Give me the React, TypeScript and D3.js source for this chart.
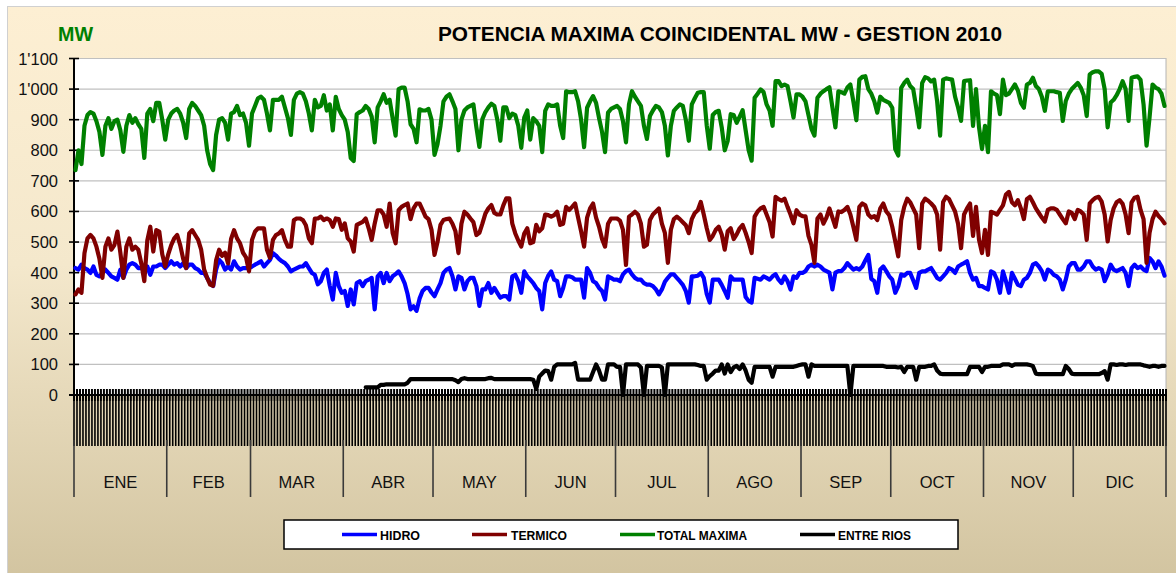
import React from "react";
import * as d3 from "d3";

const WIDTH = 1176;
const HEIGHT = 573;

const PLOT = { left: 74, right: 1166, top: 58.5, bottom: 395 };

const MONTHS = ["ENE", "FEB", "MAR", "ABR", "MAY", "JUN", "JUL", "AGO", "SEP", "OCT", "NOV", "DIC"];
const MONTH_DAYS = [31, 28, 31, 30, 31, 30, 31, 31, 30, 31, 30, 31];
const Y_TICKS = [0, 100, 200, 300, 400, 500, 600, 700, 800, 900, 1000, 1100];

// daily maxima, one row per month
const hidroByMonth = [
  [415, 410, 426, 415, 410, 399, 420, 393, 388, 399, 410, 399, 388, 383, 377, 410, 383, 410, 426, 431, 426, 415, 415, 410, 420, 393, 420, 420, 426, 426, 415],
  [426, 437, 426, 431, 420, 431, 415, 426, 426, 415, 410, 399, 399, 383, 366, 356, 410, 442, 431, 410, 420, 410, 437, 420, 410, 415, 415, 415],
  [420, 426, 431, 437, 420, 431, 442, 464, 456, 445, 437, 431, 420, 404, 410, 415, 420, 420, 431, 415, 399, 393, 362, 372, 399, 410, 356, 312, 399, 356, 334],
  [340, 291, 345, 296, 366, 372, 356, 372, 377, 383, 280, 388, 399, 366, 399, 372, 388, 395, 404, 388, 366, 330, 280, 290, 275, 315, 340, 350, 350, 335],
  [323, 345, 366, 399, 410, 415, 388, 345, 388, 383, 345, 372, 383, 383, 356, 291, 345, 345, 366, 334, 350, 334, 318, 323, 323, 312, 388, 393, 372, 334, 404],
  [388, 377, 366, 350, 340, 280, 366, 390, 404, 377, 372, 323, 350, 388, 388, 385, 377, 377, 377, 318, 415, 399, 372, 366, 350, 340, 312, 388, 383, 377],
  [377, 372, 394, 405, 410, 394, 383, 377, 377, 366, 361, 361, 356, 345, 329, 345, 370, 383, 394, 394, 383, 372, 360, 340, 302, 388, 388, 390, 399, 383, 330],
  [302, 377, 377, 377, 360, 340, 318, 388, 377, 377, 377, 377, 320, 307, 302, 383, 380, 377, 388, 383, 377, 388, 395, 377, 366, 388, 372, 345, 388, 383, 399],
  [399, 405, 420, 426, 420, 426, 420, 410, 405, 400, 345, 400, 405, 405, 415, 431, 420, 410, 415, 410, 420, 440, 458, 380, 372, 334, 410, 420, 405, 388],
  [377, 334, 355, 394, 390, 399, 399, 375, 350, 399, 404, 404, 410, 415, 399, 383, 377, 388, 399, 415, 410, 399, 420, 426, 431, 437, 399, 377, 383, 356, 356],
  [350, 345, 404, 399, 377, 334, 404, 372, 334, 399, 380, 360, 356, 377, 383, 399, 426, 431, 420, 405, 377, 410, 404, 393, 388, 377, 345, 377, 420, 431],
  [431, 410, 410, 420, 437, 437, 420, 410, 415, 410, 372, 394, 426, 410, 405, 410, 415, 399, 356, 415, 426, 415, 420, 410, 405, 448, 437, 415, 437, 420, 390],
];

const termicoByMonth = [
  [329, 345, 334, 464, 512, 523, 512, 485, 445, 383, 485, 512, 475, 490, 534, 465, 383, 485, 512, 475, 485, 475, 430, 372, 505, 550, 469, 539, 534, 460, 420],
  [460, 490, 512, 523, 490, 445, 415, 528, 539, 523, 507, 475, 410, 383, 361, 357, 440, 475, 455, 465, 430, 510, 539, 512, 496, 465, 450, 404],
  [507, 534, 545, 545, 545, 475, 448, 507, 523, 528, 539, 507, 485, 485, 572, 577, 577, 572, 555, 512, 496, 577, 577, 583, 572, 577, 572, 550, 577, 575, 540],
  [561, 512, 502, 469, 556, 561, 566, 577, 545, 507, 560, 604, 604, 590, 550, 626, 530, 496, 604, 615, 621, 626, 575, 610, 626, 626, 605, 583, 575, 540],
  [458, 500, 556, 572, 575, 577, 560, 535, 464, 560, 599, 590, 577, 565, 523, 530, 560, 593, 610, 621, 595, 590, 590, 620, 643, 643, 560, 528, 505, 485, 528],
  [545, 496, 500, 556, 535, 545, 590, 588, 583, 588, 599, 556, 560, 615, 605, 615, 626, 580, 535, 485, 580, 610, 626, 580, 550, 510, 485, 560, 577, 577],
  [577, 570, 540, 425, 583, 590, 599, 590, 560, 485, 491, 572, 590, 600, 610, 560, 530, 432, 540, 575, 583, 575, 565, 555, 529, 575, 595, 604, 631, 590, 545],
  [507, 520, 540, 550, 525, 475, 535, 545, 510, 525, 545, 556, 530, 500, 464, 583, 600, 610, 615, 590, 565, 518, 648, 640, 635, 642, 615, 590, 561, 604, 590],
  [585, 584, 520, 491, 432, 577, 590, 560, 580, 610, 580, 550, 600, 598, 605, 615, 590, 550, 507, 615, 626, 620, 590, 580, 585, 572, 610, 626, 600, 588],
  [550, 502, 453, 572, 615, 642, 630, 610, 590, 480, 626, 642, 635, 626, 615, 590, 475, 631, 648, 640, 620, 600, 560, 480, 590, 610, 626, 520, 615, 507, 464],
  [540, 458, 599, 595, 590, 605, 620, 655, 664, 630, 620, 637, 610, 575, 640, 648, 630, 610, 595, 580, 567, 605, 610, 610, 605, 590, 575, 561, 600, 595],
  [575, 605, 600, 590, 507, 626, 637, 645, 648, 632, 590, 502, 572, 610, 630, 637, 625, 590, 529, 630, 645, 648, 605, 575, 432, 530, 575, 599, 585, 575, 561],
];

const totalByMonth = [
  [735, 800, 755, 880, 915, 925, 920, 895, 860, 785, 880, 905, 870, 895, 900, 865, 795, 880, 915, 890, 905, 885, 870, 775, 920, 935, 895, 955, 955, 900, 835],
  [900, 920, 930, 935, 920, 890, 840, 935, 955, 945, 930, 915, 880, 800, 755, 735, 850, 900, 905, 890, 835, 920, 925, 945, 915, 920, 890, 815],
  [920, 945, 970, 975, 965, 920, 865, 965, 965, 965, 975, 940, 905, 850, 965, 985, 990, 985, 960, 920, 865, 965, 940, 945, 980, 930, 950, 865, 975, 935, 915],
  [900, 860, 775, 765, 918, 925, 930, 945, 935, 910, 826, 940, 960, 983, 955, 965, 905, 848, 1000, 1005, 1005, 960, 885, 870, 826, 934, 930, 930, 935, 900],
  [785, 820, 880, 960, 975, 983, 960, 935, 800, 900, 930, 940, 945, 950, 875, 811, 902, 925, 940, 952, 945, 900, 831, 940, 940, 905, 920, 915, 880, 808, 907],
  [930, 835, 905, 895, 880, 794, 929, 950, 945, 945, 950, 880, 840, 993, 990, 990, 993, 960, 900, 810, 939, 960, 977, 955, 905, 860, 794, 923, 935, 940],
  [945, 935, 895, 826, 950, 993, 975, 960, 945, 880, 837, 912, 930, 945, 940, 925, 880, 783, 880, 929, 940, 950, 945, 900, 831, 950, 970, 988, 990, 990, 880],
  [805, 915, 925, 929, 875, 800, 831, 918, 915, 890, 910, 931, 865, 800, 766, 972, 985, 999, 990, 950, 930, 880, 1026, 1026, 1010, 1015, 1010, 960, 907, 983, 983],
  [975, 960, 915, 870, 848, 972, 985, 993, 1000, 1006, 940, 875, 993, 990, 985, 1005, 1015, 960, 898, 1031, 1040, 1042, 1000, 985, 960, 923, 975, 965, 960, 955],
  [939, 804, 783, 1004, 1020, 1031, 1010, 1000, 940, 875, 1020, 1039, 1035, 1025, 1031, 960, 848, 1031, 1035, 1033, 1031, 975, 940, 896, 1026, 1028, 1029, 880, 1000, 875, 804],
  [880, 794, 993, 985, 980, 918, 1031, 980, 985, 1000, 1015, 995, 955, 939, 1015, 1020, 1037, 1010, 1000, 975, 929, 993, 993, 993, 990, 988, 896, 961, 985, 1000],
  [1010, 1020, 1005, 980, 912, 1048, 1055, 1058, 1058, 1050, 1000, 875, 956, 965, 980, 1000, 1026, 1000, 896, 1037, 1040, 1042, 1030, 950, 815, 907, 1015, 1005, 1000, 985, 945],
];

// Entre Rios has data from April on (null = not yet in service)
const ENTRE_RIOS_FIRST_MONTH = 3;
const entreRiosByMonth = [
  [null, null, null, null, null, null, null, 25, 25, 25, 25, 25, 33, 33, 35, 35, 35, 35, 35, 35, 35, 40, 52, 52, 52, 52, 52, 52, 52, 52],
  [52, 52, 52, 52, 52, 52, 52, 48, 42, 52, 55, 52, 52, 52, 52, 52, 52, 52, 55, 56, 52, 52, 52, 52, 52, 52, 52, 52, 52, 52, 52],
  [52, 52, 50, 20, 60, 70, 80, 78, 50, 92, 100, 100, 100, 100, 100, 100, 105, 50, 50, 50, 50, 50, 75, 100, 80, 50, 50, 100, 100, 100],
  [92, 92, 0, 100, 100, 100, 100, 100, 90, 0, 95, 95, 95, 95, 95, 90, 0, 100, 100, 100, 100, 100, 100, 100, 100, 100, 100, 98, 95, 95, 50],
  [62, 70, 80, 80, 100, 70, 100, 75, 90, 95, 85, 100, 80, 50, 40, 92, 92, 92, 92, 92, 92, 60, 92, 92, 92, 92, 92, 92, 92, 95, 98],
  [100, 100, 60, 100, 95, 95, 95, 95, 95, 95, 95, 95, 95, 95, 95, 95, 0, 95, 95, 95, 95, 95, 95, 95, 95, 95, 95, 95, 92, 92],
  [92, 92, 90, 92, 75, 92, 92, 92, 50, 92, 92, 92, 95, 95, 100, 80, 70, 68, 68, 68, 68, 68, 68, 68, 68, 68, 92, 92, 92, 92, 75],
  [92, 92, 95, 95, 95, 95, 100, 100, 100, 95, 100, 100, 100, 100, 100, 98, 95, 70, 68, 68, 68, 68, 68, 68, 68, 68, 68, 95, 85, 70],
  [68, 68, 68, 68, 68, 68, 68, 68, 68, 72, 78, 50, 100, 100, 98, 100, 100, 98, 100, 100, 100, 100, 100, 97, 95, 92, 95, 95, 92, 95, 95],
];

const SERIES = [
  { name: "HIDRO", color: "#0000FF", values: hidroByMonth.flat(), offset: 0 },
  { name: "TERMICO", color: "#800000", values: termicoByMonth.flat(), offset: 0 },
  { name: "TOTAL MAXIMA", color: "#008000", values: totalByMonth.flat(), offset: 0 },
  {
    name: "ENTRE RIOS",
    color: "#000000",
    values: entreRiosByMonth.flat(),
    offset: d3.sum(MONTH_DAYS.slice(0, ENTRE_RIOS_FIRST_MONTH)),
  },
];

const LEGEND = [
  { name: "HIDRO", line: 342, text: 380, width: 40 },
  { name: "TERMICO", line: 472, text: 511, width: 56 },
  { name: "TOTAL MAXIMA", line: 620, text: 657, width: 90 },
  { name: "ENTRE RIOS", line: 800, text: 838, width: 73 },
];

const FONT = "'Liberation Sans', Arial, sans-serif";

const fmt = d3
  .formatLocale({ decimal: ".", thousands: "'", grouping: [3], currency: ["", ""] })
  .format(",");

export default function App() {
  const days = d3.sum(MONTH_DAYS);
  const x = d3.scaleLinear().domain([0, days]).range([PLOT.left, PLOT.right]);
  const y = d3.scaleLinear().domain([0, 1100]).range([PLOT.bottom, PLOT.top]);

  const monthStarts = Array.from(d3.cumsum([0, ...MONTH_DAYS]));
  const dayEdges = d3.range(days + 1);

  const lineFor = (offset: number) =>
    d3
      .line<number | null>()
      .defined((d) => d != null)
      .x((_, i) => x(offset + i + 0.5))
      .y((d) => y(d as number));

  return (
    <svg
      width={WIDTH}
      height={HEIGHT}
      style={{ position: "absolute", left: 0, top: 0, fontFamily: FONT }}
    >
      <defs>
        <linearGradient id="bg" x1="0" y1="0" x2="0" y2="1">
          <stop offset="0" stopColor="#FDEFD3" />
          <stop offset="0.45" stopColor="#F4E8CC" />
          <stop offset="1" stopColor="#D2C4A0" />
        </linearGradient>
      </defs>
      <rect x={0} y={0} width={WIDTH} height={HEIGHT} fill="#fff" />
      <rect x={7.5} y={6.5} width={WIDTH} height={HEIGHT} fill="url(#bg)" stroke="#D0D0D0" />

      <text x={58} y={41} fill="#008000" fontWeight="bold" fontSize={21} textLength={35} lengthAdjust="spacingAndGlyphs">
        MW
      </text>
      <text
        x={720}
        y={41}
        textAnchor="middle"
        fontWeight="bold"
        fontSize={21}
        fill="#000"
        textLength={564}
        lengthAdjust="spacingAndGlyphs"
      >
        POTENCIA MAXIMA COINCIDENTAL  MW - GESTION 2010
      </text>

      <rect
        x={PLOT.left}
        y={PLOT.top}
        width={PLOT.right - PLOT.left}
        height={PLOT.bottom - PLOT.top}
        fill="#fff"
        stroke="#B4B4B4"
      />
      {Y_TICKS.filter((t) => t > 0).map((t) => (
        <line key={t} x1={PLOT.left} x2={PLOT.right} y1={y(t)} y2={y(t)} stroke="#C0C0C0" strokeWidth={1.2} />
      ))}

      {/* day ticks */}
      <g>
        {dayEdges.map((d) => (
          <line key={`u${d}`} x1={x(d)} x2={x(d)} y1={389} y2={401} stroke="#000" strokeWidth={2} />
        ))}
        {dayEdges.map((d) => (
          <line key={`l${d}`} x1={x(d)} x2={x(d)} y1={401} y2={446} stroke="#000" strokeWidth={1.6} />
        ))}
      </g>
      {monthStarts.map((d) => (
        <line key={`m${d}`} x1={x(d)} x2={x(d)} y1={440} y2={497} stroke="#3a3a3a" strokeWidth={1.6} />
      ))}
      {MONTHS.map((m, i) => (
        <text
          key={m}
          x={x((monthStarts[i] + monthStarts[i + 1]) / 2)}
          y={488}
          textAnchor="middle"
          fontSize={16.5}
          fill="#111"
        >
          {m}
        </text>
      ))}

      {/* axes */}
      <line x1={PLOT.left - 5} x2={PLOT.right} y1={y(0)} y2={y(0)} stroke="#000" strokeWidth={2} />
      <line x1={PLOT.left} x2={PLOT.left} y1={PLOT.top} y2={y(0)} stroke="#000" strokeWidth={2} />
      {Y_TICKS.map((t) => (
        <g key={`t${t}`}>
          <line x1={PLOT.left - 5} x2={PLOT.left + 5} y1={y(t)} y2={y(t)} stroke="#000" strokeWidth={1.6} />
          <text x={58} y={y(t) + 6} textAnchor="end" fontSize={16.5} fill="#111">
            {fmt(t)}
          </text>
        </g>
      ))}

      {SERIES.map((s) => (
        <path
          key={s.name}
          d={lineFor(s.offset)(s.values) ?? ""}
          fill="none"
          stroke={s.color}
          strokeWidth={4.2}
          strokeLinejoin="round"
          strokeLinecap="round"
        />
      ))}

      {/* legend */}
      <rect x={284} y={520} width={674} height={29} fill="#fff" stroke="#000" strokeWidth={1.5} />
      {LEGEND.map((l) => {
        const s = SERIES.find((d) => d.name === l.name)!;
        return (
          <g key={l.name}>
            <line x1={l.line} x2={l.line + 35} y1={534.5} y2={534.5} stroke={s.color} strokeWidth={3.5} />
            <text
              x={l.text}
              y={539.5}
              fontSize={13.5}
              fontWeight="bold"
              fill="#000"
              textLength={l.width}
              lengthAdjust="spacingAndGlyphs"
            >
              {l.name}
            </text>
          </g>
        );
      })}
    </svg>
  );
}
